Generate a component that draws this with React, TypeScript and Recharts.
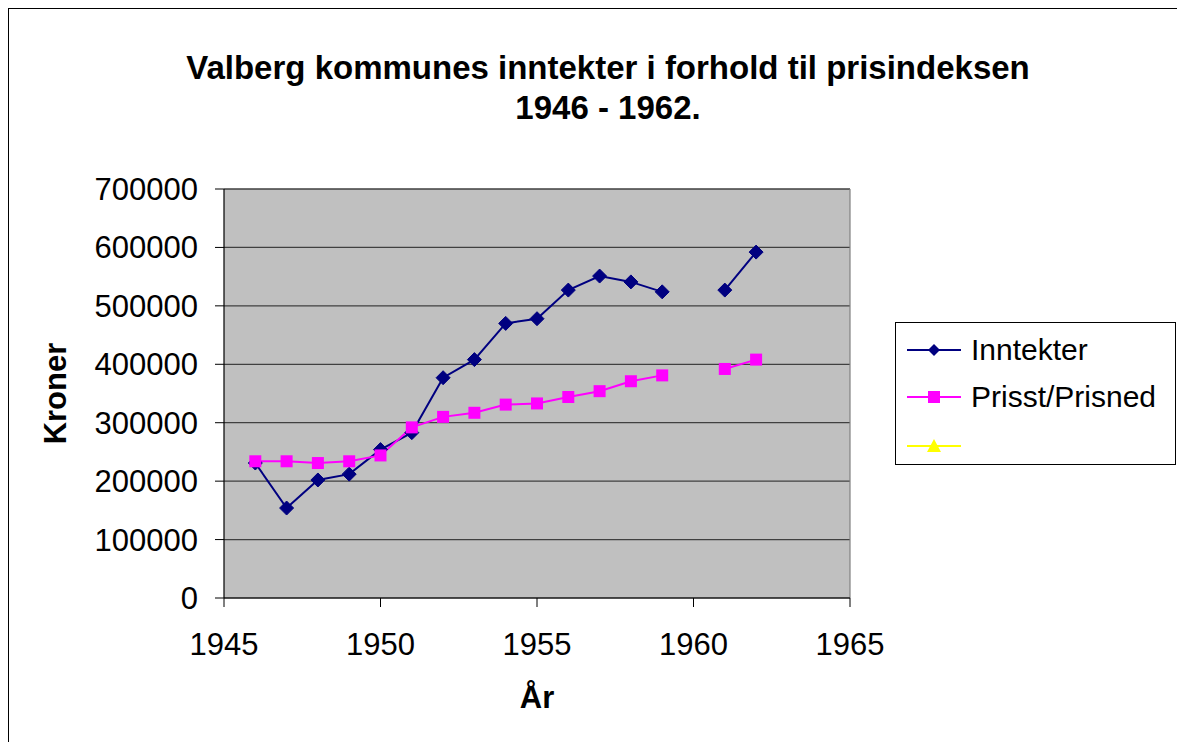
import React from 'react';
import { LineChart, Line, XAxis, YAxis, CartesianGrid, ReferenceLine, Label } from 'recharts';

const years = [1946, 1947, 1948, 1949, 1950, 1951, 1952, 1953, 1954, 1955, 1956, 1957, 1958, 1959, 1960, 1961, 1962];
const inntekter: (number | null)[] = [231000, 154000, 202000, 212000, 254000, 283000, 377000, 408000, 470000, 478000, 527000, 551000, 541000, 524000, null, 527000, 592000];
const prisst: (number | null)[] = [234000, 234000, 231000, 234000, 244000, 292000, 310000, 317000, 331000, 333000, 344000, 354000, 371000, 381000, null, 392000, 408000];
const xTicks = [1945, 1950, 1955, 1960, 1965];
const yTicks = [0, 100000, 200000, 300000, 400000, 500000, 600000, 700000];
const seriesNames = ['Inntekter', 'Prisst/Prisned', ''];
const titleLines = ['Valberg kommunes inntekter i forhold til prisindeksen', '1946 - 1962.'];

const data = years.map((year, i) => ({ year, inntekter: inntekter[i], prisst: prisst[i] }));

const FONT = '"Liberation Sans", Arial, sans-serif';
const NAVY = '#000080';
const MAGENTA = '#ff00ff';
const YELLOW = '#ffff00';

const Diamond = (props: any) => {
  const { cx, cy, index } = props;
  if (cx == null || cy == null || isNaN(cy)) return <g key={`d-${index}`} />;
  const r = 7;
  return (
    <polygon
      key={`d-${index}`}
      points={`${cx},${cy - r} ${cx + r},${cy} ${cx},${cy + r} ${cx - r},${cy}`}
      fill={NAVY}
      stroke={NAVY}
      strokeWidth={1}
    />
  );
};

const Square = (props: any) => {
  const { cx, cy, index } = props;
  if (cx == null || cy == null || isNaN(cy)) return <g key={`s-${index}`} />;
  const r = 6;
  return <rect key={`s-${index}`} x={cx - r} y={cy - r} width={2 * r} height={2 * r} fill={MAGENTA} />;
};

const LegendIcon = ({ kind }: { kind: number }) => {
  const color = kind === 0 ? NAVY : kind === 1 ? MAGENTA : YELLOW;
  return (
    <svg width={54} height={20} style={{ display: 'block' }}>
      <line x1={0} y1={10} x2={54} y2={10} stroke={color} strokeWidth={2} />
      {kind === 0 && <polygon points="27,4 33,10 27,16 21,10" fill={color} />}
      {kind === 1 && <rect x={21} y={4} width={12} height={12} fill={color} />}
      {kind === 2 && <polygon points="27,3 34,16 20,16" fill={color} />}
    </svg>
  );
};

const XLabel = (props: any) => {
  const vb = props.viewBox || {};
  return (
    <text x={vb.x + vb.width / 2} y={vb.y + 110} textAnchor="middle" fontWeight="bold" fontSize={31} fill="#000" fontFamily={FONT}>
      År
    </text>
  );
};

const YLabel = (props: any) => {
  const vb = props.viewBox || {};
  const cx = 57;
  const cy = vb.y + vb.height / 2;
  return (
    <text x={cx} y={cy} transform={`rotate(-90 ${cx} ${cy})`} textAnchor="middle" fontWeight="bold" fontSize={31} fill="#000" fontFamily={FONT}>
      Kroner
    </text>
  );
};

export default function App() {
  return (
    <div
      style={{
        position: 'fixed',
        left: 8,
        top: 8,
        width: 1168,
        height: 733,
        borderTop: '1px solid #000',
        borderLeft: '1px solid #000',
        fontFamily: FONT,
        background: '#fff',
        overflow: 'hidden',
      }}
    >
      <div
        style={{
          position: 'absolute',
          left: 99,
          top: 39,
          width: 1000,
          textAlign: 'center',
          fontWeight: 'bold',
          fontSize: 33,
          lineHeight: '40px',
          color: '#000',
        }}
      >
        {titleLines.map((t, i) => (
          <div key={i}>{t}</div>
        ))}
      </div>
      <LineChart width={1168} height={725} data={data} margin={{ top: 180, right: 327, bottom: 76, left: 115 }}>
        <CartesianGrid vertical={false} fill="#c0c0c0" stroke="#404040" strokeWidth={1.2} />
        <XAxis
          type="number"
          dataKey="year"
          domain={[1945, 1965]}
          ticks={xTicks}
          interval={0}
          height={60}
          tickSize={9}
          tickMargin={26}
          axisLine={{ stroke: '#000', strokeWidth: 1.2 }}
          tickLine={{ stroke: '#000' }}
          tick={{ fill: '#000', fontSize: 31, fontFamily: FONT }}
        >
          <Label content={<XLabel />} />
        </XAxis>
        <YAxis
          domain={[0, 700000]}
          ticks={yTicks}
          interval={0}
          width={100}
          tickSize={9}
          tickMargin={17}
          axisLine={{ stroke: '#000', strokeWidth: 1.2 }}
          tickLine={{ stroke: '#000' }}
          tick={{ fill: '#000', fontSize: 31, fontFamily: FONT }}
        >
          <Label content={<YLabel />} />
        </YAxis>
        <ReferenceLine y={700000} stroke="#404040" strokeWidth={1.2} />
        <ReferenceLine x={1965} stroke="#808080" strokeWidth={1.2} />
        <Line
          type="linear"
          dataKey="inntekter"
          name={seriesNames[0]}
          stroke={NAVY}
          strokeWidth={2}
          dot={(p: any) => <Diamond {...p} />}
          activeDot={false}
          connectNulls={false}
          isAnimationActive={false}
        />
        <Line
          type="linear"
          dataKey="prisst"
          name={seriesNames[1]}
          stroke={MAGENTA}
          strokeWidth={2}
          dot={(p: any) => <Square {...p} />}
          activeDot={false}
          connectNulls={false}
          isAnimationActive={false}
        />
      </LineChart>
      <div
        style={{
          position: 'absolute',
          left: 886,
          top: 313,
          width: 281,
          height: 143,
          border: '1px solid #000',
          background: '#fff',
          boxSizing: 'border-box',
        }}
      >
        {seriesNames.map((name, i) => (
          <div
            key={i}
            style={{
              position: 'absolute',
              left: 11,
              top: [27, 74, 123][i] - 20,
              height: 40,
              display: 'flex',
              alignItems: 'center',
              fontSize: 30,
              color: '#000',
              whiteSpace: 'nowrap',
            }}
          >
            <LegendIcon kind={i} />
            <span style={{ marginLeft: 10 }}>{name}</span>
          </div>
        ))}
      </div>
    </div>
  );
}
